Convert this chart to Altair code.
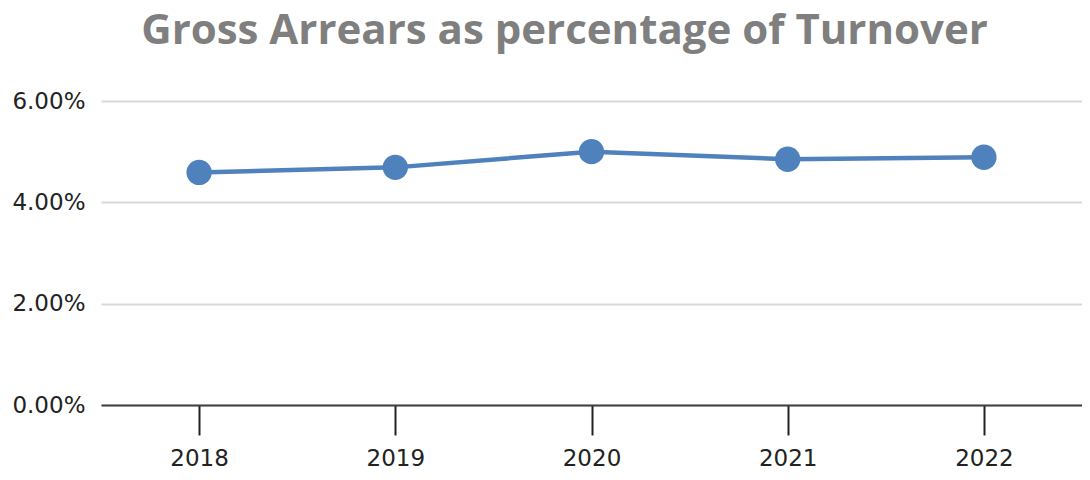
import altair as alt
import pandas as pd

years = ["2018", "2019", "2020", "2021", "2022"]
values = [0.0459, 0.0469, 0.0500, 0.0485, 0.0489]

df = pd.DataFrame({"Year": years, "Value": values})

FONT = "DejaVu Sans"
BLUE = "#4f81bd"

base = alt.Chart(df).encode(
    x=alt.X("Year:N", sort=years, title=None,
            scale=alt.Scale(paddingInner=0, paddingOuter=0),
            axis=alt.Axis(labelAngle=0, domainColor="#404040", domainWidth=2,
                          tickColor="#222222", tickWidth=2, tickSize=30,
                          labelFontSize=23, labelFont=FONT, labelColor="#222222",
                          labelBaseline="alphabetic", labelPadding=30,
                          grid=False)),
    y=alt.Y("Value:Q", title=None,
            scale=alt.Scale(domain=[0, 0.06], nice=False),
            axis=alt.Axis(values=[0, 0.02, 0.04, 0.06], format=".2%",
                          labelFontSize=23, labelFont=FONT, labelColor="#222222",
                          labelPadding=16, tickSize=0, domain=False,
                          gridColor="#d9d9d9", gridWidth=2)),
)

line = base.mark_line(color=BLUE, strokeWidth=4.5)
pts = base.mark_circle(color=BLUE, size=640, opacity=1)

chart = (line + pts).properties(
    width=981, height=304,
    title=alt.TitleParams("Gross Arrears as percentage of Turnover",
                          font="Open Sans", fontSize=42, fontWeight="bold",
                          color="#7f7f7f", anchor="middle", frame="group",
                          baseline="alphabetic", offset=4, dx=-27),
    padding={"left": 93, "top": 93, "right": 0, "bottom": 67},
    autosize="none",
).configure_view(stroke=None)

chart.save("out.html", embed_options={"renderer": "svg", "actions": False})
